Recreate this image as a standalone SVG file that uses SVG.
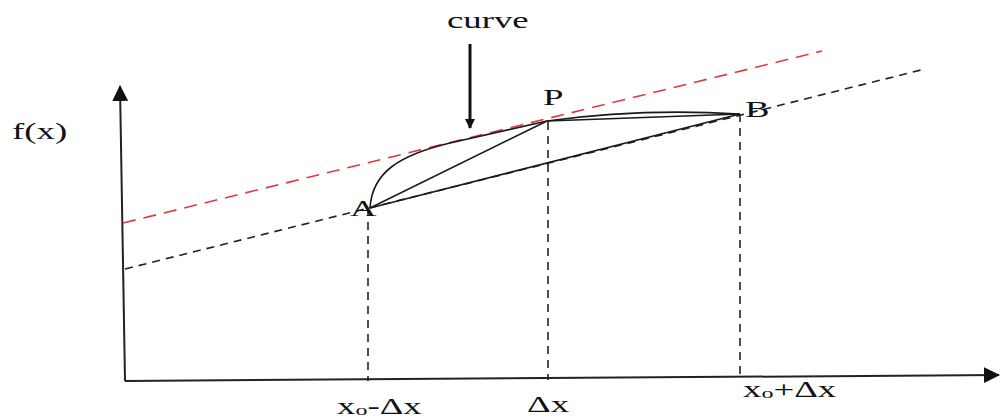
<svg xmlns="http://www.w3.org/2000/svg" width="1004" height="419" viewBox="0 0 1004 419">
<style>
.t{font-family:"Liberation Serif","Times New Roman",serif;fill:#111;font-size:23px}
.s{font-size:15px}
.ax{stroke:#222;stroke-width:2;fill:none}
.ln{stroke:#1a1a1a;stroke-width:1.6;fill:none}
.dash{stroke:#222;stroke-width:1.6;stroke-dasharray:8 6;fill:none}
.red{stroke:#e03a3a;stroke-width:1.6;stroke-dasharray:13 8;fill:none}
</style>
<defs>
<marker id="ah" markerWidth="10" markerHeight="10" refX="9" refY="5" orient="auto" markerUnits="userSpaceOnUse" viewBox="0 0 10 10">
<path d="M0,0 L10,5 L0,10 Z" fill="#111"/>
</marker>
<marker id="ah2" markerWidth="16" markerHeight="16" refX="15" refY="8" orient="auto" markerUnits="userSpaceOnUse" viewBox="0 0 16 16">
<path d="M0,0 L16,8 L0,16 Z" fill="#111"/>
</marker>
</defs>
<g id="connectors">
<line class="ax" x1="125" y1="381" x2="120" y2="86" marker-end="url(#ah2)"/>
<line class="ax" x1="125" y1="381" x2="999" y2="375" marker-end="url(#ah2)"/>
<line class="red" x1="123" y1="223" x2="822" y2="51"/>
<line class="dash" x1="125" y1="269" x2="925" y2="69"/>
<path class="ln" d="M370,208 C372,172 400,155 450,143 L547,121"/>
<path class="ln" d="M547,121 Q640,108 740,114"/>
<line class="ln" x1="547" y1="121" x2="740" y2="114" stroke-width="1.2"/>
<line class="ln" x1="370" y1="208" x2="547" y2="121" stroke-width="1.2"/>
<line class="ln" x1="370" y1="208" x2="740" y2="114" stroke-width="2"/>
<line class="dash" x1="368" y1="208" x2="368" y2="381"/>
<line class="dash" x1="548" y1="122" x2="548" y2="380"/>
<line class="dash" x1="740" y1="114" x2="740" y2="376"/>
<line x1="470" y1="44" x2="470" y2="128" stroke="#111" stroke-width="3" marker-end="url(#ah)"/>
</g>
<g id="labels">
<text class="t" transform="translate(12,139) scale(1.6,1)">f(x)</text>
<text class="t" transform="translate(447,28) scale(1.6,1)">curve</text>
<text class="t" transform="translate(543,105) scale(1.6,1)">P</text>
<text class="t" transform="translate(745,117) scale(1.6,1)">B</text>
<text class="t" transform="translate(350,216) scale(1.6,1)">A</text>
<text class="t" transform="translate(337,414) scale(1.6,1)">x<tspan class="s" dy="1">o</tspan><tspan dy="-1">-Δx</tspan></text>
<text class="t" transform="translate(527,412) scale(1.6,1)">Δx</text>
<text class="t" transform="translate(743,397) scale(1.6,1)">x<tspan class="s" dy="1">o</tspan><tspan dy="-1">+Δx</tspan></text>
</g>
</svg>
